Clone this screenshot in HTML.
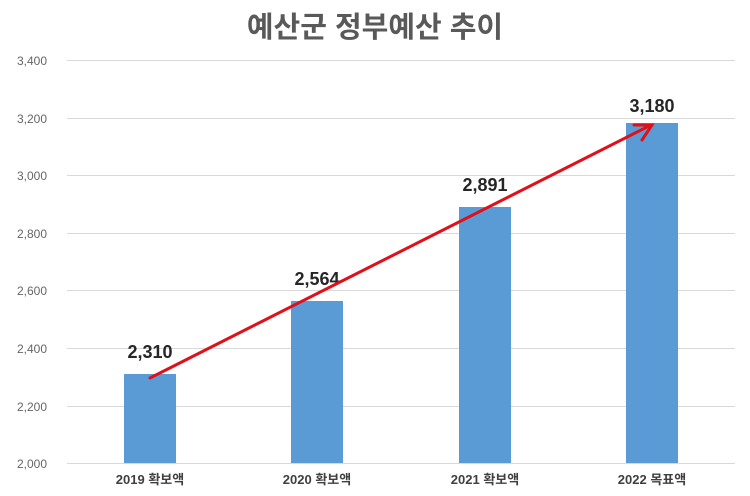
<!DOCTYPE html>
<html><head><meta charset="utf-8"><style>
body{margin:0;background:#fff;}
svg{display:block;}
text{font-family:"Liberation Sans","Noto Sans CJK KR",sans-serif;}
</style></head><body>
<svg width="750" height="496" xmlns="http://www.w3.org/2000/svg">
<text x="375" y="37" text-anchor="middle" font-size="29" font-weight="bold" fill="#595959">예산군 정부예산 추이</text>
<g stroke="#d9d9d9" stroke-width="1">
<line x1="67" x2="735" y1="60.5" y2="60.5"/>
<line x1="67" x2="735" y1="118.5" y2="118.5"/>
<line x1="67" x2="735" y1="175.5" y2="175.5"/>
<line x1="67" x2="735" y1="233.5" y2="233.5"/>
<line x1="67" x2="735" y1="290.5" y2="290.5"/>
<line x1="67" x2="735" y1="348.5" y2="348.5"/>
<line x1="67" x2="735" y1="406.5" y2="406.5"/>
<line x1="67" x2="735" y1="463.5" y2="463.5"/>
</g>
<g font-size="12" fill="#666" text-anchor="end">
<text x="47" y="65">3,400</text><text x="47" y="123">3,200</text><text x="47" y="180">3,000</text>
<text x="47" y="238">2,800</text><text x="47" y="295">2,600</text><text x="47" y="353">2,400</text>
<text x="47" y="411">2,200</text><text x="47" y="468">2,000</text>
</g>
<g fill="#5b9bd5">
<rect x="124" y="374" width="52" height="89"/>
<rect x="291" y="301" width="52" height="162"/>
<rect x="459" y="207" width="52" height="256"/>
<rect x="626" y="123" width="52" height="340"/>
</g>
<g font-size="18" font-weight="bold" fill="#262626" text-anchor="middle">
<text x="150" y="358">2,310</text><text x="317" y="285">2,564</text>
<text x="485" y="191">2,891</text><text x="652" y="112">3,180</text>
</g>
<g font-size="13" font-weight="bold" fill="#404040" text-anchor="middle">
<text x="150" y="484">2019 확보액</text><text x="317" y="484">2020 확보액</text>
<text x="485" y="484">2021 확보액</text><text x="652" y="484">2022 목표액</text>
</g>
<g stroke="#e0101a" stroke-width="3" fill="none" stroke-linecap="round">
<line x1="150" y1="378" x2="651" y2="125"/>
<polyline points="634,125 652,125 642,140"/>
</g>
</svg>
</body></html>
